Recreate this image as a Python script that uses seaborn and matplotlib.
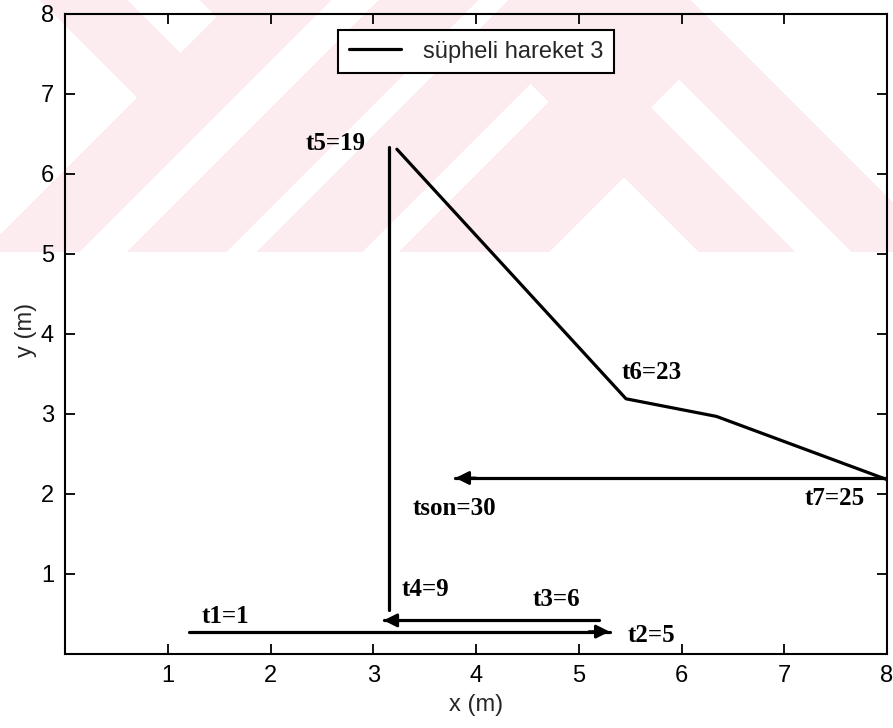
import numpy as np
import pandas as pd
import matplotlib
matplotlib.use("Agg")
import matplotlib.pyplot as plt
import seaborn as sns
from matplotlib.lines import Line2D

# Path of the suspicious movement, drawn stroke by stroke (metres)
stroke = [1, 1, 2, 2, 3, 3, 4, 4, 4, 4, 5, 5]
path_x = [1.21, 5.30, 5.20, 3.10, 3.15, 3.15, 3.23, 5.46, 6.34, 8.00, 8.00, 3.80]
path_y = [0.28, 0.28, 0.42, 0.42, 0.55, 6.34, 6.31, 3.19, 2.97, 2.18, 2.20, 2.20]
arrow_strokes = [1, 2, 5]

# Time stamps along the path
events = ["t1", "t2", "t3", "t4", "t5", "t6", "t7", "tson"]
times = [1, 5, 6, 9, 19, 23, 25, 30]
event_x = [1.33, 5.48, 4.55, 3.28, 2.34, 5.42, 7.20, 3.38]
event_y = [0.47, 0.235, 0.68, 0.80, 6.385, 3.52, 1.94, 1.82]

series_name = "süpheli hareket 3"
x_ticks = [1, 2, 3, 4, 5, 6, 7, 8]
y_ticks = [1, 2, 3, 4, 5, 6, 7, 8]

df = pd.DataFrame({"stroke": stroke, "x": path_x, "y": path_y})

sns.set_style("ticks")
plt.rcParams.update({
    "font.family": ["Liberation Sans", "DejaVu Sans"],
    "xtick.direction": "in",
    "ytick.direction": "in",
    "xtick.top": True,
    "ytick.right": True,
    "axes.linewidth": 1.5,
})

W, H = 893, 728
fig = plt.figure(figsize=(W / 100, H / 100), dpi=100)
fig.patch.set_facecolor("white")

# faint pink diagonal band pattern in the upper part of the page
bh = 252
Y, X = np.mgrid[0:bh, 0:W].astype(float)
s, d = X + Y, Y - X
white = np.zeros_like(X, dtype=bool)
white |= (s < 234) & (d > -40)
white |= (d < -127) & (d > -200) & (s < 233)
white |= (s > 330) & (s < 378)
white |= (s > 477) & (s < 508)
white |= (s > 613) & (s < 650) & (d > -447)
white |= (d < -690)
white |= (d > -600) & (d < -543) & (s > 757)
white |= (d > -447) & (s > 800)
img = np.ones((bh, W, 3))
pink = np.array([252, 236, 239]) / 255.0
img[~white] = pink
fig.figimage(img, xo=0, yo=H - bh, origin="upper", zorder=-1)

ax = fig.add_axes([65 / W, 74 / H, 822 / W, 640 / H])
ax.set_facecolor("none")

for sid, g in df.groupby("stroke", sort=False):
    sns.lineplot(data=g, x="x", y="y", sort=False, estimator=None, ax=ax,
                 color="black", linewidth=2.3, legend=False)
    if sid in arrow_strokes:
        gx, gy = g["x"].to_numpy(), g["y"].to_numpy()
        back = 0.2 * np.sign(gx[-1] - gx[-2])
        ax.annotate("", xy=(gx[-1], gy[-1]), xytext=(gx[-1] - back, gy[-1]),
                    arrowprops=dict(arrowstyle="-|>", color="black", lw=2.0,
                                    mutation_scale=20, shrinkA=0, shrinkB=0))

for name, t, tx, ty in zip(events, times, event_x, event_y):
    ax.text(tx, ty, f"{name}={t}", ha="left", va="center",
            family="Liberation Serif", fontweight="bold", fontsize=18,
            color="black")

ax.set_xlim(0, 8)
ax.set_ylim(0, 8)
ax.set_xticks(x_ticks)
ax.set_yticks(y_ticks)
ax.tick_params(axis="both", labelsize=17, length=7, width=1.3, pad=8,
               colors="black")
for sp in ax.spines.values():
    sp.set_visible(True)
    sp.set_color("black")

ax.set_xlabel("x (m)", fontsize=17)
ax.set_ylabel("y (m)", fontsize=17)
ax.xaxis.set_label_coords(0.5, -0.062)
ax.xaxis.label.set_va("top")
ax.yaxis.set_label_coords(-0.034, 0.506)

handle = Line2D([], [], color="black", linewidth=2.3)
leg = ax.legend([handle], [series_name], loc="upper center",
                bbox_to_anchor=(0.5, 0.975), borderaxespad=0, fontsize=17,
                frameon=True, fancybox=False, handlelength=2.2,
                handletextpad=0.95, borderpad=0.45)
leg.get_frame().set_edgecolor("black")
leg.get_frame().set_linewidth(1.5)
leg.get_frame().set_facecolor("white")
leg.get_frame().set_alpha(1.0)

fig.savefig("out.png", dpi=100)
